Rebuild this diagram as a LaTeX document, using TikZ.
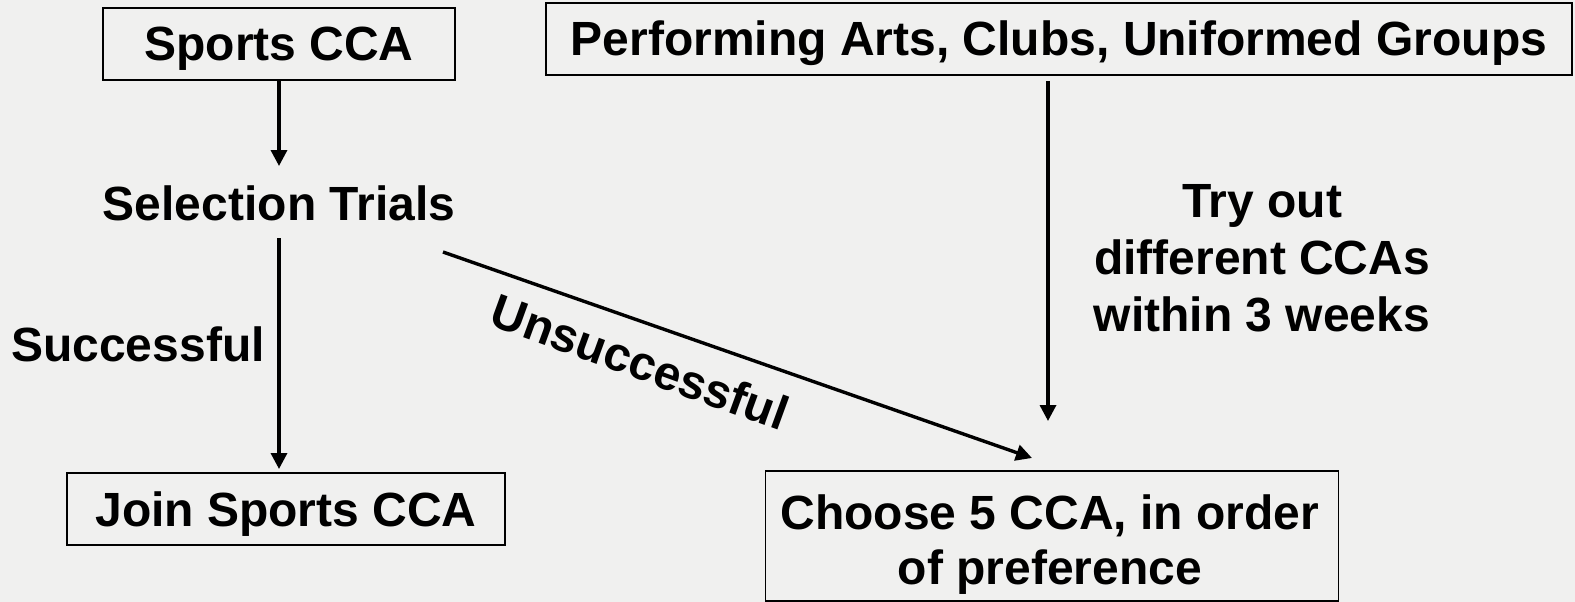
\documentclass[tikz,border=0pt]{standalone}
\usepackage{fontspec}
\setmainfont{Liberation Sans}
\usetikzlibrary{arrows.meta}
\definecolor{bg}{RGB}{240,240,239}
\begin{document}
\begin{tikzpicture}[x=1pt,y=-1pt,
  every node/.style={font=\fontsize{48}{57}\selectfont\bfseries, inner sep=0pt, align=center},
  capc/.style={text height=34pt, text depth=0pt},
  box/.style={draw, line width=1.6pt, fill=bg},
  arr/.style={line width=3.4pt, -{Triangle[length=16pt,width=16pt]}}]
\fill[bg] (0,0) rectangle (1575,602);
\useasboundingbox (0,0) rectangle (1575,602);
\node[box, capc, minimum width=352pt, minimum height=72pt] (sports) at (279,44) {Sports CCA};
\node[box, capc, minimum width=1026pt, minimum height=72pt] (perf) at (1059,39) {Performing Arts, Clubs, Uniformed Groups};
\node[capc, minimum height=74pt] (sel) at (279,203) {Selection Trials};
\node[box, capc, minimum width=438pt, minimum height=72pt] (join) at (286,509) {Join Sports CCA};
\node[box, minimum width=573pt, minimum height=130pt] (choose) at (1052,536) {};
\node[font=\fontsize{48}{55}\selectfont\bfseries] (choosetxt) at (1050,545) {Choose 5 CCA, in order\\of preference};
\node[capc] (succ) at (138,344) {Successful};
\node (try) at (1262,258) {Try out\\different CCAs\\within 3 weeks};
\node[rotate=-20] (unsucc) at (640,362) {Unsuccessful};
\coordinate (s1) at (279,81);
\coordinate (s2) at (279,166);
\coordinate (t1) at (279,238);
\coordinate (t2) at (279,469);
\coordinate (u1) at (443,252);
\coordinate (u2) at (1032,458);
\coordinate (p1) at (1048,81);
\coordinate (p2) at (1048,421);
\draw[arr] (s1) -- (s2);
\draw[arr] (t1) -- (t2);
\draw[arr] (u1) -- (u2);
\draw[arr] (p1) -- (p2);
\end{tikzpicture}
\end{document}
